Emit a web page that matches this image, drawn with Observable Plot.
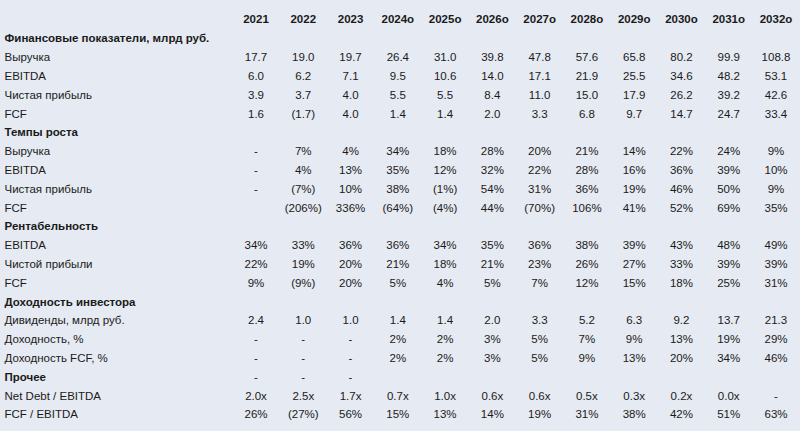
<!DOCTYPE html>
<html><head><meta charset="utf-8">
<script src="https://cdn.jsdelivr.net/npm/d3@7"></script>
<script src="https://cdn.jsdelivr.net/npm/@observablehq/plot@0.6"></script>
<style>html,body{margin:0;padding:0;background:#e6eaf2;overflow:hidden;}</style>
</head><body><div id="chart"></div>
<script>
const years = ["2021","2022","2023","2024o","2025o","2026o","2027o","2028o","2029o","2030o","2031o","2032o"];

const fin_revenue = ["17.7","19.0","19.7","26.4","31.0","39.8","47.8","57.6","65.8","80.2","99.9","108.8"];
const fin_ebitda  = ["6.0","6.2","7.1","9.5","10.6","14.0","17.1","21.9","25.5","34.6","48.2","53.1"];
const fin_net     = ["3.9","3.7","4.0","5.5","5.5","8.4","11.0","15.0","17.9","26.2","39.2","42.6"];
const fin_fcf     = ["1.6","(1.7)","4.0","1.4","1.4","2.0","3.3","6.8","9.7","14.7","24.7","33.4"];

const gr_revenue = ["-","7%","4%","34%","18%","28%","20%","21%","14%","22%","24%","9%"];
const gr_ebitda  = ["-","4%","13%","35%","12%","32%","22%","28%","16%","36%","39%","10%"];
const gr_net     = ["-","(7%)","10%","38%","(1%)","54%","31%","36%","19%","46%","50%","9%"];
const gr_fcf     = ["","(206%)","336%","(64%)","(4%)","44%","(70%)","106%","41%","52%","69%","35%"];

const mg_ebitda = ["34%","33%","36%","36%","34%","35%","36%","38%","39%","43%","48%","49%"];
const mg_net    = ["22%","19%","20%","21%","18%","21%","23%","26%","27%","33%","39%","39%"];
const mg_fcf    = ["9%","(9%)","20%","5%","4%","5%","7%","12%","15%","18%","25%","31%"];

const inv_div      = ["2.4","1.0","1.0","1.4","1.4","2.0","3.3","5.2","6.3","9.2","13.7","21.3"];
const inv_yield    = ["-","-","-","2%","2%","3%","5%","7%","9%","13%","19%","29%"];
const inv_fcfyield = ["-","-","-","2%","2%","3%","5%","9%","13%","20%","34%","46%"];

const other_head     = ["-","-","-","","","","","","","","",""];
const other_netdebt  = ["2.0x","2.5x","1.7x","0.7x","1.0x","0.6x","0.6x","0.5x","0.3x","0.2x","0.0x","-"];
const other_fcfebitda= ["26%","(27%)","56%","15%","13%","14%","19%","31%","38%","42%","51%","63%"];

const rows = [
  {label: "", values: years, bold: true},
  {label: "Финансовые показатели, млрд руб.", bold: true},
  {label: "Выручка", values: fin_revenue},
  {label: "EBITDA", values: fin_ebitda},
  {label: "Чистая прибыль", values: fin_net},
  {label: "FCF", values: fin_fcf},
  {label: "Темпы роста", bold: true},
  {label: "Выручка", values: gr_revenue},
  {label: "EBITDA", values: gr_ebitda},
  {label: "Чистая прибыль", values: gr_net},
  {label: "FCF", values: gr_fcf},
  {label: "Рентабельность", bold: true},
  {label: "EBITDA", values: mg_ebitda},
  {label: "Чистой прибыли", values: mg_net},
  {label: "FCF", values: mg_fcf},
  {label: "Доходность инвестора", bold: true},
  {label: "Дивиденды, млрд руб.", values: inv_div},
  {label: "Доходность, %", values: inv_yield},
  {label: "Доходность FCF, %", values: inv_fcfyield},
  {label: "Прочее", bold: true, values: other_head},
  {label: "Net Debt / EBITDA", values: other_netdebt},
  {label: "FCF / EBITDA", values: other_fcfebitda}
];

const cells = [];
const labels = [];
rows.forEach((r, i) => {
  labels.push({row: i, text: r.label, bold: !!r.bold});
  if (r.values) r.values.forEach((v, j) => {
    cells.push({row: i, year: years[j], text: v, bold: i === 0});
  });
});

const font = "'Liberation Sans', Arial, sans-serif";
const fs = 11.5;
const chart = Plot.plot({
  width: 800,
  height: 431,
  marginLeft: 0, marginRight: 0, marginTop: 0, marginBottom: 0,
  style: {background: "#e6eaf2", fontFamily: font},
  x: {type: "point", domain: years, range: [255.5, 775.5], padding: 0, round: false, axis: null},
  y: {type: "point", domain: d3.range(rows.length), range: [19.3, 414.3], padding: 0, round: false, axis: null},
  marks: [
    Plot.text(labels.filter(d => d.bold), {y: "row", text: "text", frameAnchor: "left", dx: 4, textAnchor: "start", fontSize: fs, fontWeight: "bold", fill: "#1a1a1a"}),
    Plot.text(labels.filter(d => !d.bold), {y: "row", text: "text", frameAnchor: "left", dx: 4, textAnchor: "start", fontSize: fs, fill: "#1a1a1a"}),
    Plot.text(cells.filter(d => d.bold), {x: "year", y: "row", text: "text", fontSize: fs, fontWeight: "bold", fill: "#1a1a1a"}),
    Plot.text(cells.filter(d => !d.bold), {x: "year", y: "row", text: "text", fontSize: fs, fill: "#1a1a1a"})
  ]
});
document.getElementById("chart").appendChild(chart);
</script>
</body></html>
